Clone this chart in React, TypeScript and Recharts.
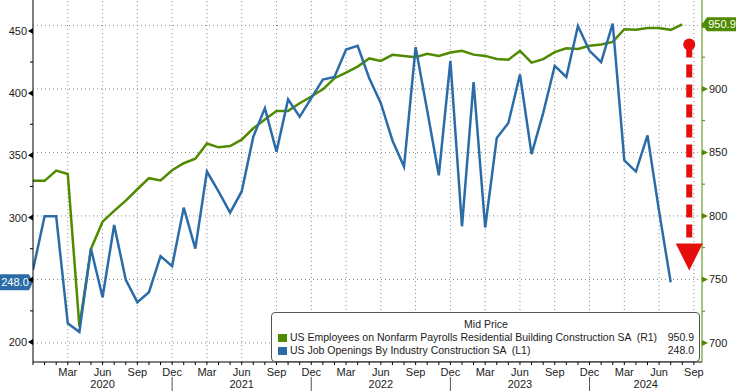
import React from 'react';
import { LineChart, Line, XAxis, YAxis, ReferenceLine, ReferenceDot } from 'recharts';

// Dec 2019 .. Sep 2024, one entry per month
const monthLabels = [
  'Dec',
  'Jan', 'Feb', 'Mar', 'Apr', 'May', 'Jun', 'Jul', 'Aug', 'Sep', 'Oct', 'Nov', 'Dec',
  'Jan', 'Feb', 'Mar', 'Apr', 'May', 'Jun', 'Jul', 'Aug', 'Sep', 'Oct', 'Nov', 'Dec',
  'Jan', 'Feb', 'Mar', 'Apr', 'May', 'Jun', 'Jul', 'Aug', 'Sep', 'Oct', 'Nov', 'Dec',
  'Jan', 'Feb', 'Mar', 'Apr', 'May', 'Jun', 'Jul', 'Aug', 'Sep', 'Oct', 'Nov', 'Dec',
  'Jan', 'Feb', 'Mar', 'Apr', 'May', 'Jun', 'Jul', 'Aug', 'Sep',
];
const quarterMonths = ['Mar', 'Jun', 'Sep', 'Dec'];
const yearLabels = ['2020', '2021', '2022', '2023', '2024'];

// US Job Openings By Industry Construction SA (L1), Dec 2019 .. Jul 2024
const jobOpenings = [
  258, 301, 301, 215, 208, 275, 236, 294, 250, 232, 240, 269, 261,
  308, 275, 337, 321, 304, 321, 365, 388, 353, 395, 381, 396,
  411, 413, 435, 438, 412, 392, 362, 341, 437, 386, 334, 426,
  293, 409, 292, 364, 376, 415, 351, 384, 422, 413, 454, 434,
  425, 456, 346, 337, 366, 305, 248,
];

// US Employees on Nonfarm Payrolls Residential Building Construction SA (R1), Dec 2019 .. Aug 2024
const payrolls = [
  827.6, 827.6, 835.7, 833, 713, 774, 795.5, 804, 812, 821, 829.7, 828, 836,
  841.5, 845, 857, 854, 855, 860, 869, 876, 882.7, 882.7, 888.7, 894,
  899.7, 908.4, 912.8, 917.6, 924, 922, 926.8, 926, 925, 927.6, 926, 928.6,
  930, 927, 926, 923.6, 923, 930, 920.7, 923.4, 929, 932, 931.5, 934,
  935, 937, 947, 946.5, 948, 948, 946.5, 950.9,
];

const leftTicks = [200, 225, 250, 275, 300, 325, 350, 375, 400, 425, 450];
const rightTicks = [700, 725, 750, 775, 800, 825, 850, 875, 900, 925, 950];

// red arrow annotation, in data units (x = month index, y = right axis)
const arrowX = 56.6;
const arrowTop = 935;
const arrowBase = 779;
const arrowTip = 757;

const X_MAX = 57.7;
const GREEN = '#4f8a00';
const BLUE = '#2b6ca8';
const RED = '#e60d0d';
const FONT = '"Liberation Sans", Arial, sans-serif';
const TEXT = '#1b1b1b';

const lastOpenings = jobOpenings[jobOpenings.length - 1];
const lastPayrolls = payrolls[payrolls.length - 1];

const data = monthLabels.map((m, i) => ({
  i,
  openings: jobOpenings[i],
  payrolls: payrolls[i],
}));

const monthTicks = monthLabels.map((_, i) => i);
const decIdx = monthLabels.map((m, i) => (m === 'Dec' ? i : -1)).filter((i) => i >= 0);
const yearBounds = [...decIdx, X_MAX];
const yearCenters = yearLabels.map((_, k) => (yearBounds[k] + yearBounds[k + 1]) / 2);
const quarterIdx = monthTicks.filter((i) => i > 0 && quarterMonths.includes(monthLabels[i]));

const LeftTick = (props: any) => {
  const { x, y, payload } = props;
  const v = payload.value;
  const major = v % 50 === 0;
  const covered = Math.abs(v - lastOpenings) < 12; // hidden under the value tag
  return (
    <g>
      {major ? (
        <polygon points={`${x - 5},${y} ${x},${y - 3} ${x},${y + 3}`} fill="#000" />
      ) : (
        <line x1={x - 3} x2={x} y1={y} y2={y} stroke="#000" />
      )}
      {major && !covered && (
        <text x={x - 6} y={y} dy={4} textAnchor="end" fontSize={11} fontFamily={FONT} fill={TEXT}>
          {v}
        </text>
      )}
    </g>
  );
};

const RightTick = (props: any) => {
  const { x, y, payload } = props;
  const v = payload.value;
  const major = v % 50 === 0;
  const covered = Math.abs(v - lastPayrolls) < 12;
  return (
    <g>
      {major ? (
        <polygon points={`${x + 6},${y} ${x},${y - 3} ${x},${y + 3}`} fill={GREEN} />
      ) : (
        <line x1={x} x2={x + 3} y1={y} y2={y} stroke={GREEN} />
      )}
      {major && !covered && (
        <text x={x + 7} y={y} dy={4} textAnchor="start" fontSize={11} fontFamily={FONT} fill={TEXT}>
          {v}
        </text>
      )}
    </g>
  );
};

const MonthTick = (props: any) => {
  const { x, y, payload } = props;
  const i = payload.value;
  const label = monthLabels[i];
  const show = i > 0 && quarterMonths.includes(label);
  return (
    <g>
      <line x1={x} x2={x} y1={y} y2={y + 3} stroke="#000" />
      {show && (
        <text x={x} y={y + 14} textAnchor="middle" fontSize={11} fontFamily={FONT} fill={TEXT}>
          {label}
        </text>
      )}
      {label === 'Dec' && i > 0 && <line x1={x} x2={x} y1={y + 15} y2={y + 29} stroke="#555" />}
    </g>
  );
};

const YearTick = (props: any) => {
  const { x, y, index } = props;
  return (
    <text x={x} y={y + 11} textAnchor="middle" fontSize={11} fontFamily={FONT} fill={TEXT}>
      {yearLabels[index]}
    </text>
  );
};

const LeftTag = (props: any) => {
  const { cx, cy } = props;
  return (
    <g>
      <polygon
        points={`${cx},${cy} ${cx - 4},${cy - 8} ${cx - 33},${cy - 8} ${cx - 33},${cy + 8} ${cx - 4},${cy + 8}`}
        fill={BLUE}
      />
      <text x={cx - 18} y={cy} dy={4} textAnchor="middle" fontSize={11} fontFamily={FONT} fill="#fff">
        {lastOpenings.toFixed(1)}
      </text>
    </g>
  );
};

const RightTag = (props: any) => {
  const { cx, cy } = props;
  return (
    <g>
      <polygon
        points={`${cx},${cy} ${cx + 5},${cy - 7} ${cx + 34},${cy - 7} ${cx + 34},${cy + 7} ${cx + 5},${cy + 7}`}
        fill={GREEN}
      />
      <text x={cx + 20} y={cy} dy={4} textAnchor="middle" fontSize={11} fontFamily={FONT} fill="#fff">
        {lastPayrolls.toFixed(1)}
      </text>
    </g>
  );
};

const ArrowHead = (props: any) => {
  const { cx, cy } = props;
  return <polygon points={`${cx - 13.5},${cy - 27} ${cx + 13.5},${cy - 27} ${cx},${cy}`} fill={RED} />;
};

const LegendBox = () => (
  <div
    style={{
      position: 'absolute',
      left: 271,
      top: 312,
      width: 416,
      height: 43,
      border: '1px solid #555',
      borderRadius: 4,
      background: '#fff',
      fontFamily: FONT,
      fontSize: 10.5,
      color: TEXT,
      lineHeight: '13px',
      padding: '5px 5px 0 6px',
      boxSizing: 'content-box',
      whiteSpace: 'pre',
    }}
  >
    <div style={{ textAlign: 'center' }}>Mid Price</div>
    {[
      { color: GREEN, name: 'US Employees on Nonfarm Payrolls Residential Building Construction SA  (R1)', value: lastPayrolls },
      { color: BLUE, name: 'US Job Openings By Industry Construction SA  (L1)', value: lastOpenings },
    ].map((row) => (
      <div key={row.name} style={{ display: 'flex', alignItems: 'center' }}>
        <span style={{ width: 9, height: 8, background: row.color, marginRight: 3, flex: 'none' }} />
        <span style={{ flex: 1 }}>{row.name}</span>
        <span>{row.value.toFixed(1)}</span>
      </div>
    ))}
  </div>
);

const App: React.FC = () => {
  return (
    <div style={{ position: 'absolute', left: 0, top: 0, width: 736, height: 391, background: '#fff' }}>
      <LineChart width={736} height={391} data={data} margin={{ top: 0, right: 0, bottom: 0, left: 0 }}>
        <XAxis
          dataKey="i"
          type="number"
          domain={[0, X_MAX]}
          ticks={monthTicks}
          interval={0}
          allowDataOverflow
          height={15}
          tickSize={0}
          tickMargin={0}
          tickLine={false}
          axisLine={{ stroke: '#000' }}
          tick={<MonthTick />}
        />
        <XAxis
          xAxisId="year"
          dataKey="i"
          type="number"
          domain={[0, X_MAX]}
          ticks={yearCenters}
          interval={0}
          allowDataOverflow
          height={14}
          tickSize={0}
          tickMargin={0}
          tickLine={false}
          axisLine={false}
          tick={<YearTick />}
        />
        <YAxis
          yAxisId="left"
          orientation="left"
          type="number"
          width={33}
          domain={[183.9, 474.9]}
          ticks={leftTicks}
          interval={0}
          allowDataOverflow
          tickSize={0}
          tickMargin={0}
          tickLine={false}
          axisLine={{ stroke: '#000' }}
          tick={<LeftTick />}
        />
        <YAxis
          yAxisId="right"
          orientation="right"
          type="number"
          width={34}
          domain={[685, 970]}
          ticks={rightTicks}
          interval={0}
          allowDataOverflow
          tickSize={0}
          tickMargin={0}
          tickLine={false}
          axisLine={{ stroke: GREEN }}
          tick={<RightTick />}
        />
        {quarterIdx.map((i) => (
          <ReferenceLine key={`vx-${i}`} yAxisId="left" x={i} stroke="#8a8a8a" strokeDasharray="1 3" />
        ))}
        {rightTicks
          .filter((v) => v % 50 === 0)
          .map((v) => (
            <ReferenceLine key={`hy-${v}`} yAxisId="right" y={v} stroke="#8a8a8a" strokeDasharray="1 3" />
          ))}
        <Line
          yAxisId="right"
          dataKey="payrolls"
          type="linear"
          stroke={GREEN}
          strokeWidth={2.5}
          dot={false}
          isAnimationActive={false}
        />
        <Line
          yAxisId="left"
          dataKey="openings"
          type="linear"
          stroke={BLUE}
          strokeWidth={2.5}
          dot={false}
          isAnimationActive={false}
        />
        <ReferenceLine
          yAxisId="right"
          segment={[
            { x: arrowX, y: arrowTop },
            { x: arrowX, y: arrowBase },
          ]}
          stroke={RED}
          strokeWidth={6}
          strokeDasharray="13 7"
        />
        <ReferenceDot yAxisId="right" x={arrowX} y={arrowTop} r={6} fill={RED} stroke="none" />
        <ReferenceDot yAxisId="right" x={arrowX} y={arrowTip} shape={<ArrowHead />} />
        <ReferenceDot yAxisId="left" x={0} y={lastOpenings} shape={<LeftTag />} />
        <ReferenceDot yAxisId="right" x={X_MAX} y={lastPayrolls} shape={<RightTag />} />
      </LineChart>
      <LegendBox />
    </div>
  );
};

export default App;
